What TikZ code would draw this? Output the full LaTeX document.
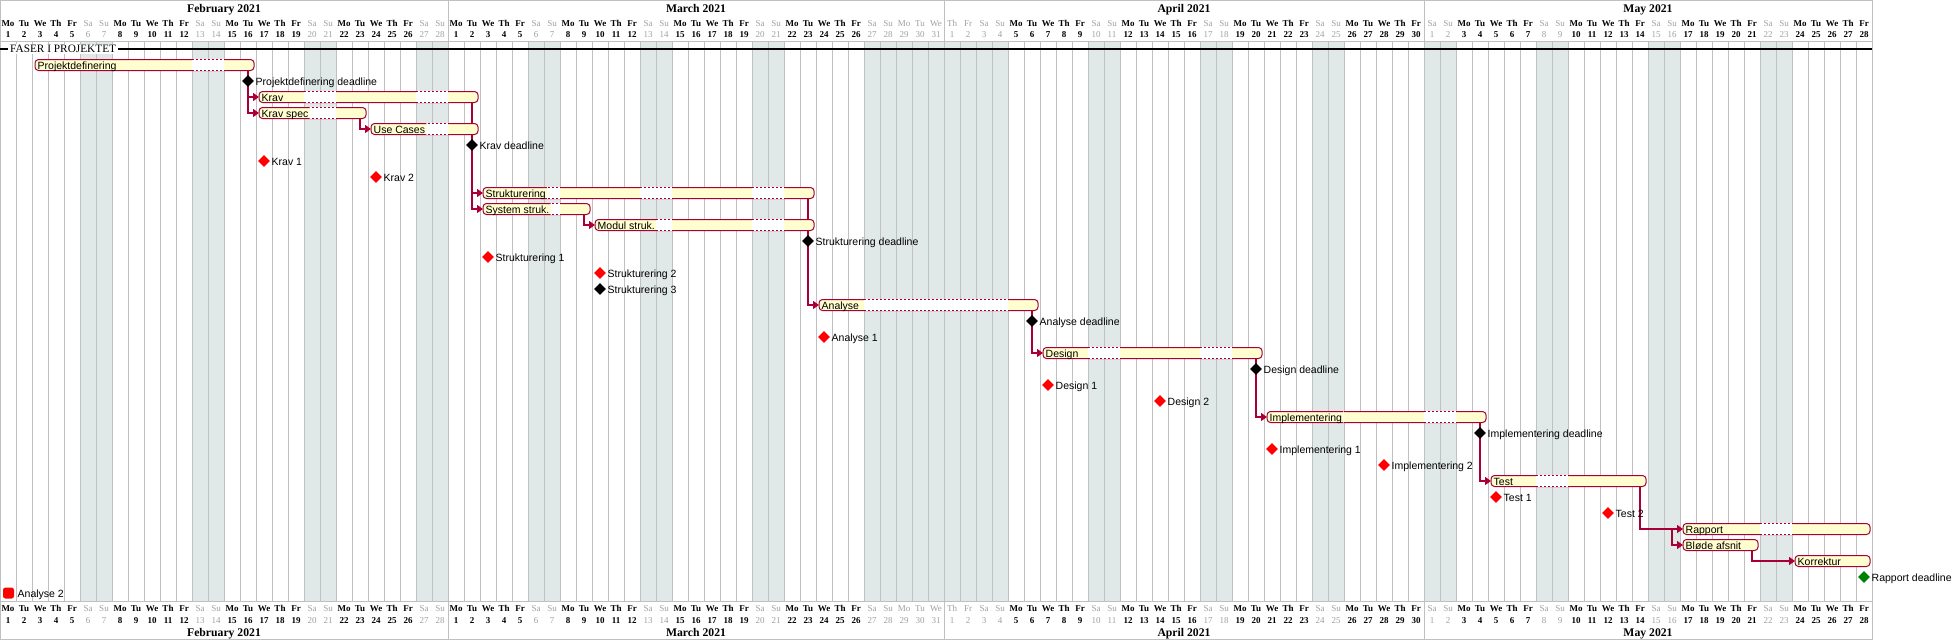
\documentclass[tikz,border=0pt]{standalone}
\usepackage{fontspec}
\setmainfont{Liberation Serif}
\newfontfamily\lsans{Liberation Sans}
\usetikzlibrary{arrows.meta,shapes.geometric}
\definecolor{barfill}{RGB}{254,254,206}
\definecolor{barline}{RGB}{168,0,54}
\definecolor{wkend}{RGB}{224,232,232}
\definecolor{gridc}{RGB}{192,192,192}
\definecolor{closedtxt}{RGB}{160,160,160}
\definecolor{msgreen}{RGB}{0,128,0}
\pgfdeclarelayer{bg}
\pgfdeclarelayer{connl}
\pgfsetlayers{bg,connl,main}

\newcommand\gdayname[1]{\ifcase#1 Mo\or Tu\or We\or Th\or Fr\or Sa\or Su\fi}
\newcommand\gsegs{80/112,192/224,304/336,416/448,528/560,640/672,752/784,864/1008,1088/1120,1200/1232,1312/1344,1424/1456,1536/1568,1648/1680,1760/1792}

\newcommand\gtask[5]{%
  \pgfmathsetmacro\gy{65+16*#2}%
  \pgfmathsetmacro\gxa{16*#3+3}%
  \pgfmathsetmacro\gxb{16*(#4+1)-2}%
  \pgfmathsetmacro\gxl{16*#4+8}%
  \draw[taskbar] (\gxa,\gy-5.5) rectangle (\gxb,\gy+5.5);
  \node[tasklbl] (#1) at (\gxa+1.5,\gy+4) {#5};
  \coordinate (#1-s) at (\gxa,\gy);
  \coordinate (#1-l) at (\gxl,\gy+5.5);
  \coordinate (#1-top) at (\gxa,\gy-7);
  \begin{scope}
    \clip (#1.east |- #1-top) rectangle (\gxb,\gy+7);
    \foreach \sa/\sb in \gsegs {
      \fill[white] (\sa,\gy-6.1) rectangle (\sb,\gy+6.1);
      \draw[taskdash] (\sa,\gy-5.5) -- (\sb,\gy-5.5) (\sa,\gy+5.5) -- (\sb,\gy+5.5);
    }
  \end{scope}
}
\newcommand\gmile[5]{%
  \pgfmathsetmacro\gy{65+16*#2}%
  \pgfmathsetmacro\gx{16*#3+8}%
  \node[mstone, fill=#4] (#1) at (\gx,\gy) {};
  \node[mslbl] (#1-t) at (\gx+6.5,\gy+4) {#5};
}
\newcommand\gmonth[4]{%
  \node[monthlbl] (m-#3-top) at (#4,12) {#3 2021};
  \node[monthlbl] (m-#3-bot) at (#4,636.5) {#3 2021};
  \foreach \i in {1,...,#2} {
    \pgfmathtruncatemacro\gdd{#1+\i-1}
    \pgfmathtruncatemacro\gwk{mod(\gdd,7)}
    \pgfmathtruncatemacro\gcl{or(\gwk>4,and(\gdd>53,\gdd<63))}
    \pgfmathsetmacro\gxc{16*\gdd+8}
    \ifnum\gcl=1 \def\gcol{closedtxt}\def\gfw{\mdseries}\else\def\gcol{black}\def\gfw{\bfseries}\fi
    \node[daytxt, text=\gcol, font=\gfw\fontsize{9}{10}\selectfont] at (\gxc,26.7) {\gdayname{\gwk}};
    \node[daytxt, text=\gcol, font=\gfw\fontsize{9}{10}\selectfont] at (\gxc,37.7) {\i};
    \node[daytxt, text=\gcol, font=\gfw\fontsize{9}{10}\selectfont] at (\gxc,611.7) {\gdayname{\gwk}};
    \node[daytxt, text=\gcol, font=\gfw\fontsize{9}{10}\selectfont] at (\gxc,623.3) {\i};
  }
}

\begin{document}
\begin{tikzpicture}[x=1pt,y=-1pt,
  taskbar/.style={draw=barline, fill=barfill, line width=1pt, rounded corners=3.5pt},
  taskdash/.style={draw=barline, line width=1pt, dash pattern=on 2pt off 2pt},
  tasklbl/.style={font=\lsans\fontsize{10.5}{12}\selectfont, anchor=base west, inner xsep=1pt, inner ysep=0pt},
  mstone/.style={diamond, minimum width=12pt, minimum height=12pt, inner sep=0pt},
  mslbl/.style={font=\lsans\fontsize{10.5}{12}\selectfont, anchor=base west, inner xsep=1pt, inner ysep=0pt},
  monthlbl/.style={font=\bfseries\fontsize{11.7}{13}\selectfont, anchor=base, inner sep=0pt},
  daytxt/.style={anchor=base, inner sep=0pt},
  gridl/.style={draw=gridc, line width=0.9pt},
  framel/.style={draw=gridc, line width=1pt},
  connp/.style={draw=barline, line width=1.5pt},
  conna/.style={draw=barline, line width=1.5pt, -{Triangle[length=6pt,width=8pt]}},
  sepl/.style={draw=black, line width=1.2pt}
]
\useasboundingbox (0,0) rectangle (1954,640);
\begin{pgfonlayer}{bg}
  \fill[white] (0,0) rectangle (1954,640);
  \foreach \sa/\sb in \gsegs {\fill[wkend] (\sa,41.3) rectangle (\sb,601.5);}
  \foreach \k in {1,...,116} {\draw[gridl] ({16*\k},41.3) -- ({16*\k},601.5);}
\end{pgfonlayer}

% frame
\draw[framel] (0,0.5) -- (1872,0.5);
\draw[framel] (0,639.5) -- (1872,639.5);
\draw[framel] (0.5,0) -- (0.5,640);
\draw[framel] (1872,0) -- (1872,640);
\draw[framel] (0,41.3) -- (1872,41.3);
\draw[framel] (0,601.5) -- (1872,601.5);
\foreach \mx in {448,944,1424} {
  \draw[framel] (\mx,0) -- (\mx,41.3);
  \draw[framel] (\mx,601.5) -- (\mx,640);
}

% header / footer
\gmonth{0}{28}{February}{224}
\gmonth{28}{31}{March}{696}
\gmonth{59}{30}{April}{1184}
\gmonth{89}{28}{May}{1648}

% separator
\draw[sepl] (0,49) -- (1872,49);
\node[fill=white, anchor=base west, inner xsep=2pt, inner ysep=1pt, font=\fontsize{11.3}{13}\selectfont] (sep) at (8,52.5) {FASER I PROJEKTET};

% tasks
\gtask{pd}{0}{2}{15}{Projektdefinering}
\gtask{krav}{2}{16}{29}{Krav}
\gtask{kspec}{3}{16}{22}{Krav spec}
\gtask{uc}{4}{23}{29}{Use Cases}
\gtask{str}{8}{30}{50}{Strukturering}
\gtask{sys}{9}{30}{36}{System struk.}
\gtask{mod}{10}{37}{50}{Modul struk.}
\gtask{ana}{15}{51}{64}{Analyse}
\gtask{des}{18}{65}{78}{Design}
\gtask{imp}{22}{79}{92}{Implementering}
\gtask{test}{26}{93}{102}{Test}
\gtask{rap}{29}{105}{116}{Rapport}
\gtask{blo}{30}{105}{109}{Bløde afsnit}
\gtask{kor}{31}{112}{116}{Korrektur}

% milestones
\gmile{pdl}{1}{15}{black}{Projektdefinering deadline}
\gmile{kdl}{5}{29}{black}{Krav deadline}
\gmile{k1}{6}{16}{red}{Krav 1}
\gmile{k2}{7}{23}{red}{Krav 2}
\gmile{sdl}{11}{50}{black}{Strukturering deadline}
\gmile{s1}{12}{30}{red}{Strukturering 1}
\gmile{s2}{13}{37}{red}{Strukturering 2}
\gmile{s3}{14}{37}{black}{Strukturering 3}
\gmile{adl}{16}{64}{black}{Analyse deadline}
\gmile{a1}{17}{51}{red}{Analyse 1}
\gmile{ddl}{19}{78}{black}{Design deadline}
\gmile{d1}{20}{65}{red}{Design 1}
\gmile{d2}{21}{72}{red}{Design 2}
\gmile{idl}{23}{92}{black}{Implementering deadline}
\gmile{i1}{24}{79}{red}{Implementering 1}
\gmile{i2}{25}{86}{red}{Implementering 2}
\gmile{t1}{27}{93}{red}{Test 1}
\gmile{t2}{28}{100}{red}{Test 2}
\gmile{rdl}{32}{116}{msgreen}{Rapport deadline}
\node[fill=red, rounded corners=2.5pt, minimum size=11pt, inner sep=0pt] (a2) at (8.5,593) {};
\node[mslbl] (a2-t) at (16.5,597) {Analyse 2};

% connectors
\begin{pgfonlayer}{connl}
\draw[connp] (pd-l) -- (pdl.center);
\draw[conna] (pdl.center) |- (krav-s);
\draw[conna] (pdl.center) |- (kspec-s);
\draw[conna] (kspec-l) |- (uc-s);
\draw[connp] (krav-l) -- (kdl.center);
\draw[connp] (uc-l) -- (kdl.center);
\draw[conna] (kdl.center) |- (str-s);
\draw[conna] (kdl.center) |- (sys-s);
\draw[conna] (sys-l) |- (mod-s);
\draw[connp] (str-l) -- (sdl.center);
\draw[connp] (mod-l) -- (sdl.center);
\draw[conna] (sdl.center) |- (ana-s);
\draw[connp] (ana-l) -- (adl.center);
\draw[conna] (adl.center) |- (des-s);
\draw[connp] (des-l) -- (ddl.center);
\draw[conna] (ddl.center) |- (imp-s);
\draw[connp] (imp-l) -- (idl.center);
\draw[conna] (idl.center) |- (test-s);
\draw[conna] (test-l) |- (rap-s);
\draw[conna] (test-l) |- ([xshift=-11pt]rap-s) |- (blo-s);
\draw[conna] (blo-l) |- (kor-s);
\end{pgfonlayer}
\end{tikzpicture}
\end{document}
